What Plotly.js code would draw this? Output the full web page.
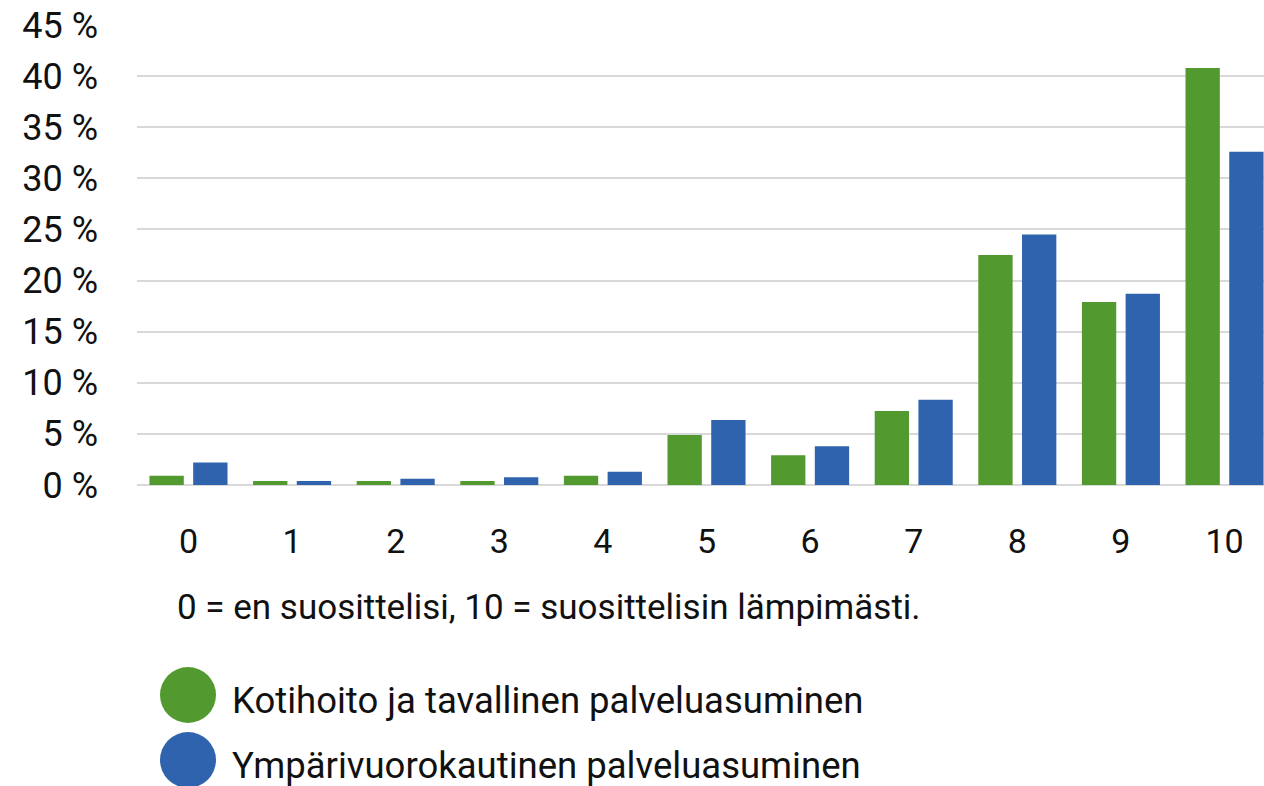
<!DOCTYPE html>
<html>
<head>
<meta charset="utf-8">
<script src="https://cdn.plot.ly/plotly-3.0.1.min.js"></script>
<style>html,body{margin:0;padding:0;background:#fff;}#chart{width:1264px;height:786px;}</style>
</head>
<body>
<div id="chart"></div>
<script>
const categories = ["0","1","2","3","4","5","6","7","8","9","10"];
const seriesNames = ["Kotihoito ja tavallinen palveluasuminen", "Ympärivuorokautinen palveluasuminen"];
const kotihoito = [0.9, 0.4, 0.4, 0.4, 0.9, 4.9, 2.9, 7.25, 22.5, 17.9, 40.8];
const ymparivuorokautinen = [2.2, 0.4, 0.6, 0.75, 1.3, 6.35, 3.8, 8.35, 24.5, 18.7, 32.6];
const yTicks = [0, 5, 10, 15, 20, 25, 30, 35, 40, 45];
const yTickLabels = ["0 %", "5 %", "10 %", "15 %", "20 %", "25 %", "30 %", "35 %", "40 %", "45 %"];
const footnote = "0 = en suosittelisi, 10 = suosittelisin lämpimästi.";
const colors = ["#529a2f", "#2f63ad"];

const FONT = "Roboto, 'DejaVu Sans', sans-serif";
const xIdx = categories.map((c, i) => i);

const traces = [
  {type: "bar", x: xIdx, y: kotihoito, name: seriesNames[0], marker: {color: colors[0], line: {width: 0}}, hoverinfo: "y"},
  {type: "bar", x: xIdx, y: ymparivuorokautinen, name: seriesNames[1], marker: {color: colors[1], line: {width: 0}}, hoverinfo: "y"}
];

const shapes = [];
const annotations = [];
annotations.push({xref: "paper", yref: "paper", x: (175-137)/1127, y: -(607-485)/460, xanchor: "left", yanchor: "middle",
  text: footnote, showarrow: false, font: {family: FONT, size: 35, color: "#111"}});
seriesNames.forEach((n, i) => {
  const cy = [695, 760][i];
  const yp = -(cy - 485)/460;
  shapes.push({type: "circle", xref: "paper", yref: "paper", xsizemode: "pixel", ysizemode: "pixel",
    xanchor: (188-137)/1127, yanchor: yp, x0: -28, x1: 28, y0: -28, y1: 28,
    fillcolor: colors[i], line: {width: 0}});
  annotations.push({xref: "paper", yref: "paper", x: (230-137)/1127, y: -(cy + 5 - 485)/460, xanchor: "left", yanchor: "middle",
    text: n, showarrow: false, font: {family: FONT, size: 36.5, color: "#111"}});
});

const layout = {
  width: 1264, height: 786,
  margin: {l: 137, r: 0, t: 25, b: 301},
  paper_bgcolor: "#fff", plot_bgcolor: "#fff",
  showlegend: false,
  barmode: "group", bargap: 0.156, bargroupgap: 0.215,
  font: {family: FONT, color: "#111"},
  xaxis: {range: [-0.497, 10.381], tickvals: xIdx, ticktext: categories, showgrid: false, zeroline: false,
    showline: false, ticks: "", tickfont: {size: 34, color: "#111"}, ticklabelstandoff: 33},
  yaxis: {range: [0, 45], tickvals: yTicks, ticktext: yTickLabels, showgrid: true, gridcolor: "#d9d9d9", gridwidth: 2,
    zeroline: true, zerolinecolor: "#d9d9d9", zerolinewidth: 2, showline: false, ticks: "",
    tickfont: {size: 36, color: "#111"}, ticklabelstandoff: 38, fixedrange: true},
  shapes: shapes,
  annotations: annotations
};

Plotly.newPlot("chart", traces, layout, {displayModeBar: false, staticPlot: true});
</script>
</body>
</html>
